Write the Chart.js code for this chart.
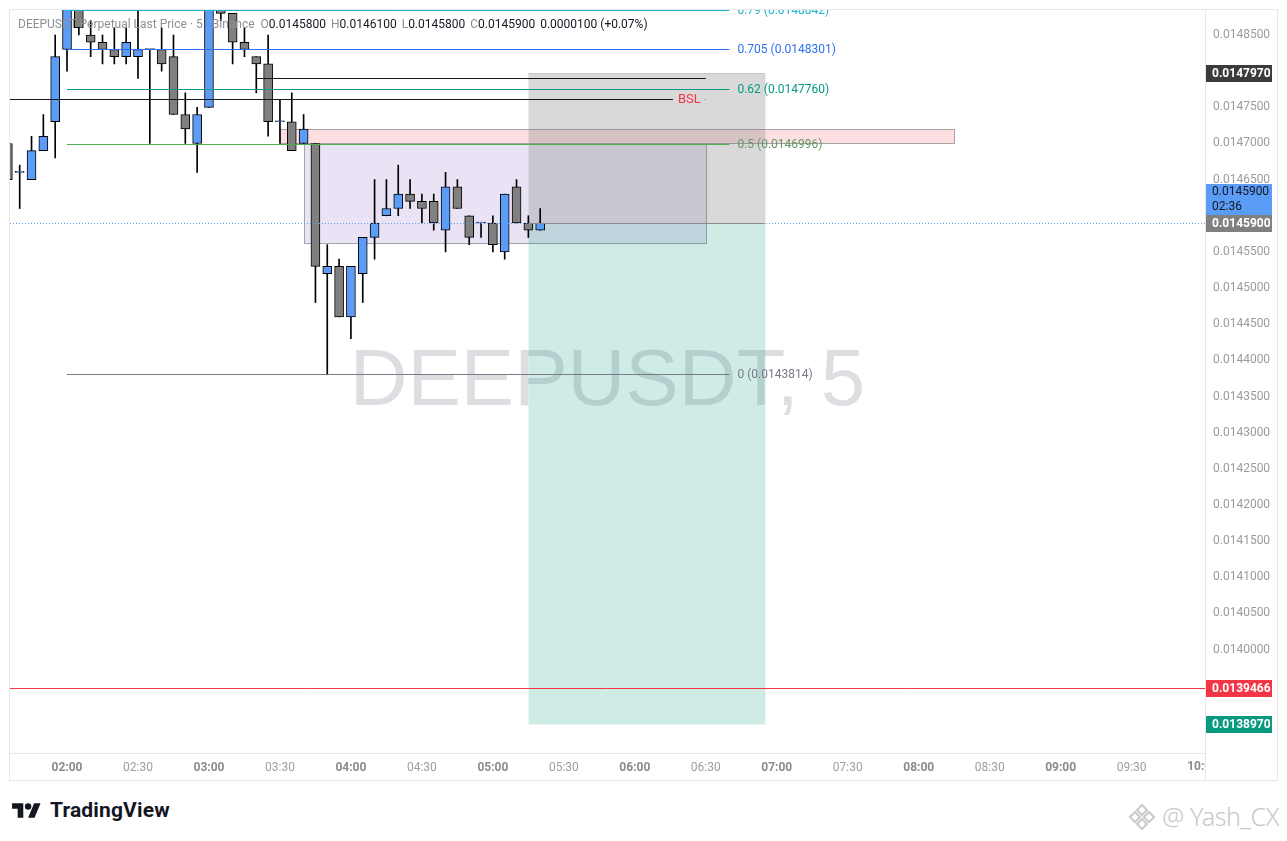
<!DOCTYPE html>
<html>
<head>
<meta charset="utf-8">
<script src="https://cdn.jsdelivr.net/npm/chart.js@4.4.1/dist/chart.umd.min.js"></script>
<style>
  body { margin: 0; width: 1287px; height: 841px; overflow: hidden; background: #fff; font-family: Roboto, "Liberation Sans", sans-serif; }
  #frame { position: absolute; left: 9px; top: 9px; width: 1267px; height: 770px; border: 1px solid #e6e7ea; }
  #c { position: absolute; left: 0; top: 0; }
  #legend { position: absolute; left: 18px; top: 17px; font-size: 12px; color: #8d8f96; white-space: nowrap; }
  #legend b { font-weight: normal; color: #131722; margin-right: 5px; }
  #logo { position: absolute; left: 12px; top: 800px; }
  #logoText { position: absolute; left: 50px; top: 798px; font: bold 21px Roboto, sans-serif; color: #131722; letter-spacing: 0.15px; }
  #sign { position: absolute; left: 1128px; top: 799px; color: #c9c9c9; font: 300 25px "Noto Sans", sans-serif; letter-spacing: -0.4px; white-space: nowrap; }
  #sign svg { vertical-align: -5px; margin-right: 6px; }
</style>
</head>
<body>
<div id="frame"><canvas id="c" width="1267" height="770"></canvas></div>
<div id="legend">DEEPUSDT Perpetual Last Price · 5 · Binance &nbsp;O<b>0.0145800</b>H<b>0.0146100</b>L<b>0.0145800</b>C<b>0.0145900</b><b>0.0000100 (+0.07%)</b></div>
<svg id="logo" width="29" height="22.5" viewBox="0 0 36 28"><path d="M14 22H7V11H0V4h14v18zM28 22h-8l7.5-18h8L28 22z" fill="#131722"/><circle cx="20" cy="8" r="4" fill="#131722"/></svg>
<div id="logoText">TradingView</div>
<div id="sign"><svg width="28" height="28" viewBox="0 0 28 28" fill="none" stroke="#c9c9c9" stroke-width="2"><path d="M14 2l5 5-5 5-5-5z"/><path d="M7 9l5 5-5 5-5-5z"/><path d="M21 9l5 5-5 5-5-5z"/><path d="M14 16l5 5-5 5-5-5z"/></svg>@ Yash_CX</div>

<script>
// DEEPUSDT perpetual, 5m candles
const times  = ['01:35','01:40','01:45','01:50','01:55','02:00','02:05','02:10','02:15','02:20',
                '02:25','02:30','02:35','02:40','02:45','02:50','02:55','03:00','03:05','03:10',
                '03:15','03:20','03:25','03:30','03:35','03:40','03:45','03:50','03:55','04:00',
                '04:05','04:10','04:15','04:20','04:25','04:30','04:35','04:40','04:45','04:50',
                '04:55','05:00','05:05','05:10','05:15','05:20'];
const opens  = [0.01470,0.01466,0.01465,0.01469,0.01473,0.01483,0.01490,0.01485,0.01484,0.01483,
                0.01482,0.01482,0.01483,0.01483,0.01482,0.01474,0.01470,0.01475,0.01490,0.01488,
                0.01484,0.01482,0.01481,0.01473,0.01473,0.01470,0.01470,0.01452,0.01453,0.01446,
                0.01452,0.01457,0.01460,0.01461,0.01463,0.01462,0.01462,0.01458,0.01464,0.01460,
                0.01459,0.01459,0.01455,0.01464,0.01459,0.01458];
const highs  = [0.01470,0.01467,0.01471,0.01474,0.01485,0.01492,0.01491,0.01487,0.01485,0.01486,
                0.01486,0.01489,0.01483,0.01486,0.01485,0.01477,0.01475,0.01495,0.01492,0.01488,
                0.01486,0.01482,0.01485,0.01476,0.01477,0.01474,0.01470,0.01456,0.01454,0.01453,
                0.01457,0.01465,0.01465,0.01467,0.01465,0.01463,0.01463,0.01466,0.01465,0.01460,
                0.01459,0.01460,0.01463,0.01465,0.01460,0.01461];
const lows   = [0.01465,0.01461,0.01465,0.01469,0.01468,0.01480,0.01485,0.01482,0.01481,0.01481,
                0.01481,0.01479,0.01470,0.01480,0.01474,0.01470,0.01466,0.01475,0.01487,0.01481,
                0.01482,0.01477,0.01471,0.01470,0.01469,0.01470,0.01448,0.01438,0.01446,0.01443,
                0.01448,0.01454,0.01460,0.01460,0.01461,0.01459,0.01458,0.01455,0.01461,0.01456,
                0.01457,0.01455,0.01454,0.01459,0.01457,0.01458];
const closes = [0.01465,0.01466,0.01469,0.01471,0.01482,0.01490,0.01486,0.01484,0.01483,0.01482,
                0.01484,0.01483,0.01483,0.01481,0.01474,0.01472,0.01474,0.01493,0.01488,0.01484,
                0.01483,0.01481,0.01473,0.01473,0.01469,0.01472,0.01453,0.01453,0.01446,0.01453,
                0.01457,0.01459,0.01461,0.01463,0.01462,0.01461,0.01459,0.01464,0.01461,0.01457,
                0.01459,0.01456,0.01463,0.01459,0.01458,0.01459];

// fib retracement
const fibRatios = ['0.79', '0.705', '0.62', '0.5', '0'];
const fibPrices = [0.0148842, 0.0148301, 0.0147760, 0.0146996, 0.0143814];
const fibColors = ['#1fb3cf', '#2f6ff5', '#089981', '#4caf50', '#787b86'];
const fibTextColors = ['#1fb3cf', '#2f6ff5', '#089981', '#5e9a62', '#787b86'];
const fibSpan   = ['02:00', '06:40'];

// drawings
const bslPrice = 0.0147615, bslSpan = ['01:30', '06:30'];
const highLinePrice = 0.01479, highLineSpan = ['03:20', '06:30'];
const fvgBox   = { from: '03:30', to: '08:15', top: 0.01472, bottom: 0.01470 };
const rangeBox = { from: '03:40', to: '06:30', top: 0.01470, bottom: 0.014562 };
const position = { from: '05:15', to: '06:55', entry: 0.01459, stop: 0.014797, target: 0.013897 };
const alertPrice = 0.0139466;
const lastPrice = 0.01459, countdown = '02:36';

// axes
const xMinTime = 95.9, xMaxTime = 601;          // minutes since midnight
const yMin = 0.0138569, yMax = 0.0148846;
const axisTags = [0.014797, 0.01459, 0.0139466, 0.013897];
const watermarkText = 'DEEPUSDT, 5';

const BLUE = '#5b9cf6', GRAY = '#808080';

const toMin = s => { const [h, m] = s.split(':').map(Number); return h * 60 + m; };
const fmtTime = v => String(Math.floor(v / 60)).padStart(2, '0') + ':' + String(v % 60).padStart(2, '0');

const wickData = times.map((t, i) => ({ x: toMin(t), y: [lows[i], highs[i]] }));
const bodyData = times.map((t, i) => ({ x: toMin(t), y: [opens[i], closes[i]] }));

function hline(ctx, x0, x1, y, color, dash) {
  ctx.save();
  ctx.strokeStyle = color; ctx.lineWidth = 1;
  if (dash) ctx.setLineDash(dash);
  const yy = Math.round(y) + 0.5;
  ctx.beginPath(); ctx.moveTo(x0, yy); ctx.lineTo(x1, yy); ctx.stroke();
  ctx.restore();
}

function box(ctx, x, y, b, fill, stroke) {
  const x0 = Math.round(x.getPixelForValue(toMin(b.from))) + 0.5;
  const x1 = Math.round(x.getPixelForValue(toMin(b.to))) + 0.5;
  const y0 = Math.round(y.getPixelForValue(b.top)) + 0.5;
  const y1 = Math.round(y.getPixelForValue(b.bottom)) + 0.5;
  ctx.fillStyle = fill;
  ctx.fillRect(x0, y0, x1 - x0, y1 - y0);
  if (stroke) { ctx.strokeStyle = stroke; ctx.lineWidth = 1; ctx.strokeRect(x0, y0, x1 - x0, y1 - y0); }
}

const overlays = {
  id: 'overlays',
  beforeDatasetsDraw(chart) {
    const { ctx, chartArea: a, scales: { x, y } } = chart;
    ctx.save();
    ctx.beginPath(); ctx.rect(a.left, a.top, a.right - a.left, a.bottom - a.top); ctx.clip();

    ctx.font = '80px "Liberation Sans", Arial, sans-serif';
    ctx.fillStyle = 'rgba(120,123,134,0.25)';
    ctx.textAlign = 'center'; ctx.textBaseline = 'middle';
    ctx.fillText(watermarkText, (a.left + a.right) / 2, (a.top + a.bottom) / 2 + 1);

    box(ctx, x, y, rangeBox, 'rgba(149,117,205,0.2)', '#a3a3a8');
    box(ctx, x, y, fvgBox, 'rgba(242,54,69,0.16)', '#a3a3a8');
    box(ctx, x, y, { from: position.from, to: position.to, top: position.stop, bottom: position.entry }, 'rgba(128,128,128,0.3)');
    box(ctx, x, y, { from: position.from, to: position.to, top: position.entry, bottom: position.target }, 'rgba(8,153,129,0.2)');
    const sx0 = x.getPixelForValue(toMin(position.from)), sx1 = x.getPixelForValue(toMin(position.to));
    hline(ctx, sx0, sx1, y.getPixelForValue(position.stop), '#a0a0a0', [1, 1]);
    ctx.restore();
  },
  afterDatasetsDraw(chart) {
    const { ctx, chartArea: a, scales: { x, y } } = chart;
    ctx.save();
    ctx.beginPath(); ctx.rect(a.left, a.top, a.right - a.left, a.bottom - a.top); ctx.clip();

    // current price + alert line
    hline(ctx, a.left, a.right, y.getPixelForValue(lastPrice), BLUE, [1, 2]);
    hline(ctx, a.left, a.right, y.getPixelForValue(alertPrice), '#f23645');
    hline(ctx, x.getPixelForValue(toMin(position.from)), x.getPixelForValue(toMin(position.to)),
          y.getPixelForValue(position.entry), '#8a8c92');

    // fib levels
    ctx.font = '12px Roboto, sans-serif';
    ctx.textAlign = 'left'; ctx.textBaseline = 'middle';
    const fx0 = x.getPixelForValue(toMin(fibSpan[0])), fx1 = x.getPixelForValue(toMin(fibSpan[1]));
    fibPrices.forEach((p, i) => {
      const py = y.getPixelForValue(p);
      hline(ctx, fx0, fx1, py, fibColors[i]);
      ctx.fillStyle = fibTextColors[i];
      ctx.fillText(fibRatios[i] + ' (' + p.toFixed(7) + ')', fx1 + 8, Math.round(py) + 1);
    });

    // liquidity lines
    const hx0 = x.getPixelForValue(toMin(highLineSpan[0])), hx1 = x.getPixelForValue(toMin(highLineSpan[1]));
    hline(ctx, hx0, hx1, y.getPixelForValue(highLinePrice), '#131722');
    const bx0 = x.getPixelForValue(toMin(bslSpan[0])), bx1 = x.getPixelForValue(toMin(bslSpan[1]));
    const by = y.getPixelForValue(bslPrice);
    ctx.font = '13px Roboto, sans-serif';
    const tw = ctx.measureText('BSL').width;
    hline(ctx, bx0, bx1 - tw - 10, by, '#131722');
    hline(ctx, bx1 - 1, bx1, by, '#8a8c92');
    ctx.fillStyle = '#f23645';
    ctx.textAlign = 'right';
    ctx.fillText('BSL', bx1 - 5, Math.round(by) + 1);
    ctx.restore();
  },
  afterDraw(chart) {
    const { ctx, chartArea: a, scales: { x, y } } = chart;
    ctx.save();
    // pane separators
    ctx.strokeStyle = '#e6e7ea'; ctx.lineWidth = 1;
    ctx.beginPath();
    ctx.moveTo(a.left, Math.round(a.bottom) + 0.5); ctx.lineTo(a.right, Math.round(a.bottom) + 0.5);
    ctx.moveTo(Math.round(a.right) + 0.5, 0); ctx.lineTo(Math.round(a.right) + 0.5, chart.height);
    ctx.stroke();

    // last time label, cut at the price scale
    ctx.save();
    ctx.beginPath(); ctx.rect(a.left, a.bottom, a.right - a.left, chart.height - a.bottom); ctx.clip();
    ctx.font = 'bold 12px Roboto, sans-serif';
    ctx.fillStyle = '#8b8b8b'; ctx.textAlign = 'center'; ctx.textBaseline = 'top';
    ctx.fillText(fmtTime(600), x.getPixelForValue(600), a.bottom + 8);
    ctx.restore();

    // price scale tags
    const tagColors = ['#3b3b3b', GRAY, '#f23645', '#089981'];
    ctx.textAlign = 'left'; ctx.textBaseline = 'middle';
    const lx = a.right + 1, lw = 66;
    axisTags.forEach((p, i) => {
      const py = Math.round(y.getPixelForValue(p));
      ctx.fillStyle = tagColors[i];
      ctx.fillRect(lx, py - 8, lw, 17);
      ctx.fillStyle = '#fff';
      ctx.font = 'bold 12px Roboto, sans-serif';
      ctx.fillText(p.toFixed(7), lx + 6, py + 1);
    });
    const ly = Math.round(y.getPixelForValue(lastPrice));
    ctx.fillStyle = BLUE;
    ctx.fillRect(lx, ly - 39, lw, 31);
    ctx.fillStyle = '#131722';
    ctx.font = '12px Roboto, sans-serif';
    ctx.fillText(lastPrice.toFixed(7), lx + 6, ly - 31);
    ctx.fillText(countdown, lx + 6, ly - 16);
    ctx.restore();
  }
};

new Chart(document.getElementById('c'), {
  type: 'bar',
  data: {
    datasets: [
      {
        label: 'wick', data: wickData, backgroundColor: '#000',
        barThickness: 1, grouped: false, order: 2, clip: 0,
      },
      {
        label: 'body', data: bodyData,
        backgroundColor: ctx => (closes[ctx.dataIndex] >= opens[ctx.dataIndex] ? BLUE : GRAY),
        borderColor: '#000', borderWidth: 1, borderSkipped: false,
        barThickness: 9, minBarLength: 1, grouped: false, order: 1, clip: 0,
      },
    ],
  },
  options: {
    responsive: false,
    animation: false,
    events: [],
    layout: { padding: 0 },
    plugins: { legend: { display: false }, tooltip: { enabled: false } },
    scales: {
      x: {
        type: 'linear', min: xMinTime, max: xMaxTime, offset: false,
        grid: { display: false, drawTicks: false }, border: { display: false },
        ticks: {
          stepSize: 30, includeBounds: false, autoSkip: false, maxRotation: 0, maxTicksLimit: 100, padding: 8,
          callback: v => (v >= 600 ? '' : fmtTime(v)),
          color: ctx => (ctx.tick && ctx.tick.value % 60 === 0 ? '#8b8b8b' : '#9e9e9e'),
          font: ctx => ({ family: 'Roboto', size: 12, weight: ctx.tick && ctx.tick.value % 60 === 0 ? 'bold' : 'normal' }),
        },
        afterFit: s => { s.height = 27; s.paddingTop = 0; s.paddingBottom = 0; },
      },
      y: {
        type: 'linear', position: 'right', min: yMin, max: yMax,
        grid: { display: false, drawTicks: false }, border: { display: false },
        ticks: {
          stepSize: 0.00005, includeBounds: false, maxTicksLimit: 100, padding: 8,
          callback: v => (axisTags.some(p => Math.abs(p - v) < 0.0000125) ? '' : v.toFixed(7)),
          color: '#9b9b9b',
          font: { family: 'Roboto', size: 12 },
        },
        afterFit: s => { s.width = 72; s.paddingTop = 0; s.paddingBottom = 0; },
      },
    },
  },
  plugins: [overlays],
});
</script>
</body>
</html>
